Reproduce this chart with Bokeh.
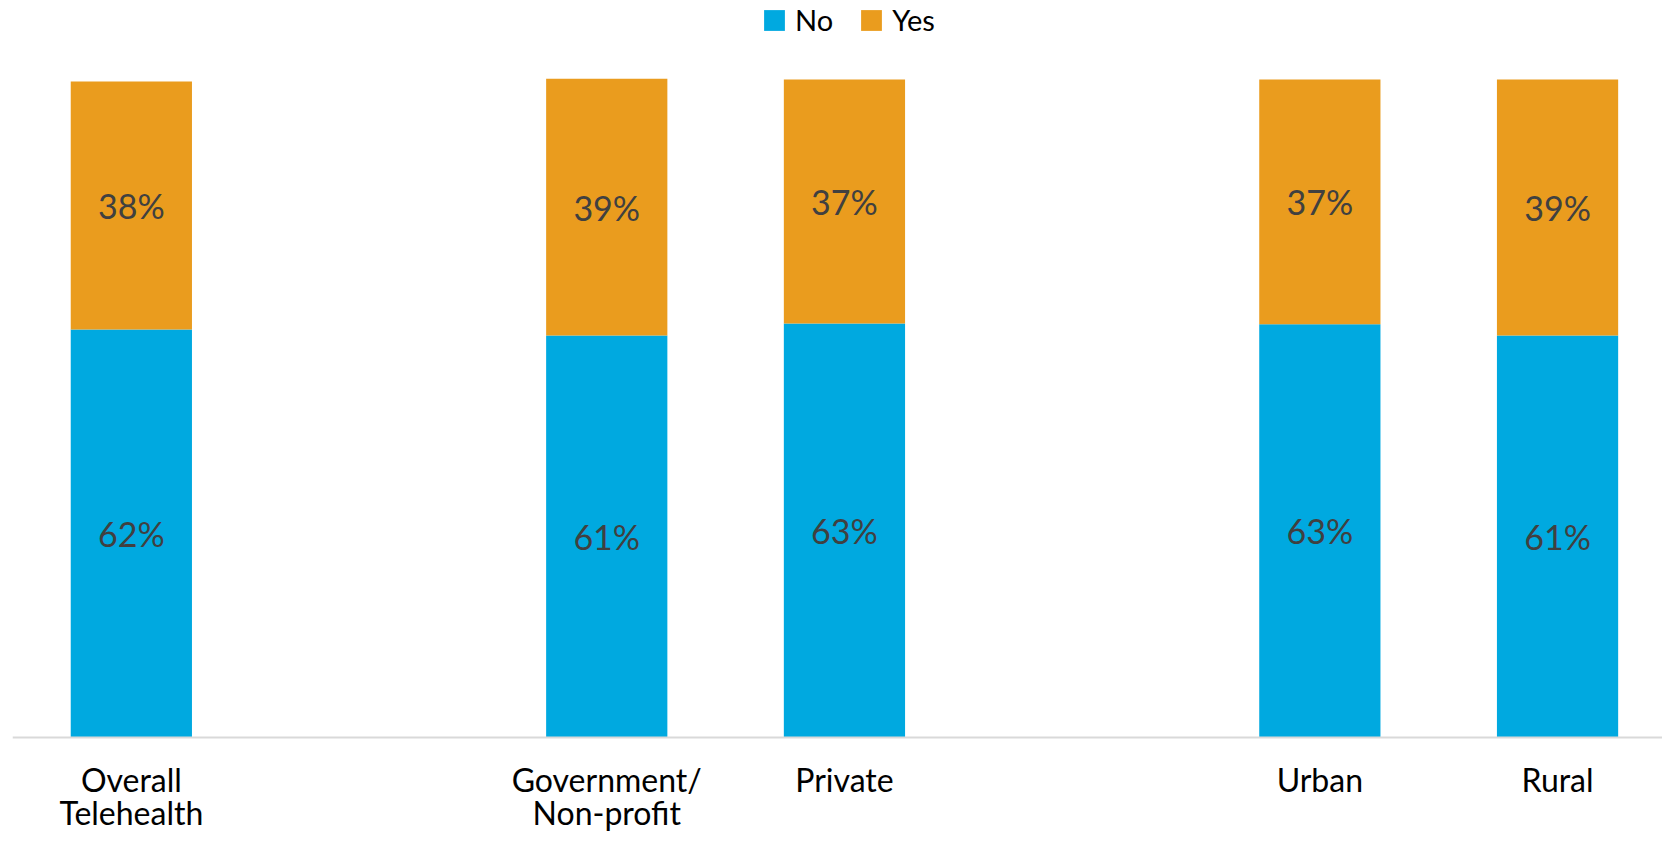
from bokeh.plotting import figure
from bokeh.models import ColumnDataSource, FixedTicker, Legend, LegendItem, Range1d
from bokeh.core.properties import value
from bokeh.embed import file_html
from bokeh.resources import INLINE

# ---- data ----
categories = ["Overall\nTelehealth", "", "Government/\nNon-profit", "Private", "", "Urban", "Rural"]
no_pct = [62.0, None, 61.1, 62.9, None, 62.8, 61.1]
yes_pct = [37.7, None, 39.0, 37.1, None, 37.2, 38.9]
no_labels = ["62%", "", "61%", "63%", "", "63%", "61%"]
yes_labels = ["38%", "", "39%", "37%", "", "37%", "39%"]

BLUE = "#00A9E0"
ORANGE = "#EA9C1E"
FONT = "Lato"

idx = [i for i, c in enumerate(categories) if c]
no_v = [no_pct[i] for i in idx]
yes_v = [yes_pct[i] for i in idx]
src = ColumnDataSource(dict(
    x=idx,
    no=no_v,
    top=[a + b for a, b in zip(no_v, yes_v)],
    no_mid=[a / 2 for a in no_v],
    yes_mid=[a + b / 2 for a, b in zip(no_v, yes_v)],
    no_lbl=[no_labels[i] for i in idx],
    yes_lbl=[yes_labels[i] for i in idx],
))

W, H = 1662, 834
B_LEFT = 12
AXIS_FROM_TOP = 737
frame_w = W - B_LEFT
slot_px = 237.7
px_per_unit = 6.58

p = figure(width=W, height=H, output_backend="svg", toolbar_location=None,
           x_range=Range1d(-0.5, -0.5 + frame_w / slot_px),
           y_range=Range1d(-(H - AXIS_FROM_TOP) / px_per_unit, AXIS_FROM_TOP / px_per_unit),
           min_border_left=B_LEFT, min_border_right=0,
           min_border_top=0, min_border_bottom=0)
p.outline_line_color = None
p.xgrid.visible = False
p.ygrid.visible = False
p.yaxis.visible = False

r_no = p.vbar(x="x", bottom=0, top="no", width=0.51, source=src,
              fill_color=BLUE, line_color=None)
r_yes = p.vbar(x="x", bottom="no", top="top", width=0.51, source=src,
               fill_color=ORANGE, line_color=None)

for ycol, tcol in (("no_mid", "no_lbl"), ("yes_mid", "yes_lbl")):
    p.text(x="x", y=ycol, text=tcol, source=src, text_align="center",
           text_baseline="middle", text_font=value(FONT),
           text_font_size="34px", text_color="#404040")

ax = p.xaxis[0]
ax.fixed_location = 0
ax.ticker = FixedTicker(ticks=idx)
ax.major_label_overrides = {i: categories[i] for i in idx}
ax.axis_line_color = "#D9D9D9"
ax.axis_line_width = 2
ax.major_tick_line_color = None
ax.minor_tick_line_color = None
ax.major_tick_out = 0
ax.major_tick_in = 0
ax.minor_tick_out = 0
ax.minor_tick_in = 0
ax.major_label_text_font = FONT
ax.major_label_text_font_size = "32px"
ax.major_label_text_color = "#000000"
ax.major_label_standoff = 22
ax.major_label_text_line_height = 0.85

legend = Legend(items=[LegendItem(label="No", renderers=[r_no]),
                       LegendItem(label="Yes", renderers=[r_yes])],
                orientation="horizontal", location=(749, H - 37),
                glyph_width=26, glyph_height=26, label_standoff=8, spacing=25,
                padding=0, margin=0, border_line_color=None,
                background_fill_alpha=0, label_text_font=FONT,
                label_text_font_size="29px", label_text_color="#000000")
p.add_layout(legend)

open("out.html", "w").write(file_html(p, INLINE))
